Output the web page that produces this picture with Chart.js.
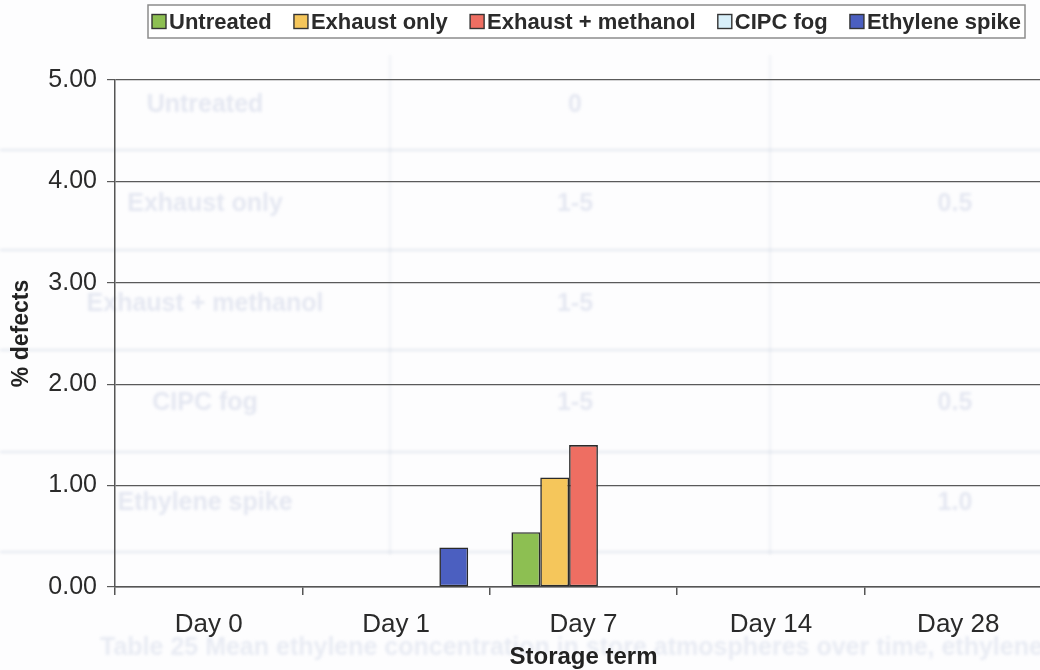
<!DOCTYPE html>
<html>
<head>
<meta charset="utf-8">
<title>% defects by storage term</title>
<script src="https://cdn.jsdelivr.net/npm/chart.js@4.4.0/dist/chart.umd.min.js"></script>
<style>
    html, body { margin: 0; padding: 0; background: #fdfdfe; overflow: hidden; }
    #wrap { width: 1060px; height: 670px; }
</style>
</head>
<body>
<div id="wrap"><canvas id="defectsChart" width="1060" height="670"></canvas></div>
<script>
// categories and series
const storageTerms = ['Day 0', 'Day 1', 'Day 7', 'Day 14', 'Day 28'];
const treatments = ['Untreated', 'Exhaust only', 'Exhaust + methanol', 'CIPC fog', 'Ethylene spike'];
const untreated = [0, 0, 0.54, 0, 0];
const exhaustOnly = [0, 0, 1.08, 0, 0];
const exhaustMethanol = [0, 0, 1.40, 0, 0];
const cipcFog = [0, 0, 0, 0, 0];
const ethyleneSpike = [0, 0.39, 0, 0, 0];
const yTicks = [0, 1, 2, 3, 4, 5];

// faint table text showing through the paper
const tableRows = [
    ['Untreated', '0', ''],
    ['Exhaust only', '1-5', '0.5'],
    ['Exhaust + methanol', '1-5', ''],
    ['CIPC fog', '1-5', '0.5'],
    ['Ethylene spike', '', '1.0']
];
const tableCaption = 'Table 25 Mean ethylene concentration in store atmospheres over time, ethylene (ppm)';

const seriesColours = ['#8dbf52', '#f5c65b', '#ee6e62', '#d8eff9', '#4b5fc0'];
const FONT = 'Arial, "Liberation Sans", sans-serif';

const showThrough = {
    id: 'showThrough',
    beforeDraw(chart) {
        const ctx = chart.ctx;
        ctx.save();
        ctx.fillStyle = '#fdfdfe';
        ctx.fillRect(0, 0, chart.width, chart.height);
        ctx.filter = 'blur(1.4px)';
        ctx.strokeStyle = 'rgba(165,178,205,0.28)';
        ctx.lineWidth = 2;
        [150, 250, 350, 452, 552].forEach(y => {
            ctx.beginPath(); ctx.moveTo(0, y); ctx.lineTo(1060, y); ctx.stroke();
        });
        ctx.strokeStyle = 'rgba(165,178,205,0.16)';
        [390, 770].forEach(x => {
            ctx.beginPath(); ctx.moveTo(x, 55); ctx.lineTo(x, 555); ctx.stroke();
        });
        ctx.fillStyle = 'rgba(150,165,200,0.24)';
        ctx.font = 'bold 25px ' + FONT;
        ctx.textBaseline = 'middle';
        tableRows.forEach((row, i) => {
            const y = 105 + i * 99.5;
            ctx.textAlign = 'center';
            ctx.fillText(row[0], 205, y);
            ctx.fillText(row[1], 575, y);
            ctx.fillText(row[2], 955, y);
        });
        ctx.textAlign = 'left';
        ctx.fillStyle = 'rgba(150,165,200,0.2)';
        ctx.fillText(tableCaption, 100, 648);
        ctx.restore();
    }
};

// legend drawn as a framed row, like a spreadsheet chart key
const boxedLegend = {
    id: 'boxedLegend',
    afterDraw(chart) {
        const ctx = chart.ctx;
        const left = 148, right = 1025, top = 5, bottom = 38;
        const cy = (top + bottom) / 2;
        ctx.save();
        ctx.fillStyle = '#ffffff';
        ctx.fillRect(left, top, right - left, bottom - top);
        ctx.strokeStyle = '#8c8c8c';
        ctx.lineWidth = 1.5;
        ctx.strokeRect(left, top, right - left, bottom - top);

        ctx.font = 'bold 22px ' + FONT;
        ctx.textBaseline = 'middle';
        const sw = 14, textGap = 3;
        const sets = chart.data.datasets;
        const widths = sets.map(ds => ctx.measureText(ds.label).width);
        const used = widths.reduce((a, b) => a + b, 0) + sets.length * (sw + textGap);
        const gap = (right - left - 8 - used) / (sets.length - 1);
        let x = left + 4;
        sets.forEach((ds, i) => {
            ctx.fillStyle = ds.backgroundColor;
            ctx.fillRect(x, cy - sw / 2, sw, sw);
            ctx.strokeStyle = '#333';
            ctx.lineWidth = 1.4;
            ctx.strokeRect(x, cy - sw / 2, sw, sw);
            ctx.fillStyle = '#2b2b2b';
            ctx.fillText(ds.label, x + sw + textGap, cy + 1);
            x += sw + textGap + widths[i] + gap;
        });
        ctx.restore();
    }
};

const seriesValues = [untreated, exhaustOnly, exhaustMethanol, cipcFog, ethyleneSpike];

new Chart(document.getElementById('defectsChart').getContext('2d'), {
    type: 'bar',
    data: {
        labels: storageTerms,
        datasets: treatments.map((name, i) => ({
            label: name,
            data: seriesValues[i],
            backgroundColor: seriesColours[i],
            borderColor: '#2a2a2a',
            borderWidth: c => (c.raw > 0 ? 1.6 : 0),
            borderSkipped: false,
            barPercentage: 1,
            categoryPercentage: 5 / 6.5
        }))
    },
    options: {
        responsive: false,
        animation: false,
        layout: { padding: { top: 80, right: 8, left: 0, bottom: 0 } },
        plugins: {
            legend: { display: false },
            tooltip: { enabled: false }
        },
        scales: {
            x: {
                grid: { display: true, drawOnChartArea: false, tickLength: 8, color: '#555', lineWidth: 1.5, offset: true },
                border: { color: '#555', width: 1.5 },
                ticks: { color: '#2a2a2a', font: { size: 26, family: FONT }, padding: 14 },
                title: {
                    display: true, text: 'Storage term', color: '#222',
                    font: { size: 24, weight: 'bold', family: FONT },
                    padding: { top: 0, bottom: -2 }
                },
                afterFit: s => { s.height = 83; }
            },
            y: {
                min: 0,
                max: 5,
                afterBuildTicks: s => { s.ticks = yTicks.map(v => ({ value: v })); },
                ticks: { color: '#2a2a2a', font: { size: 25, family: FONT }, padding: 10, callback: v => v.toFixed(2) },
                grid: { color: '#5a5a5a', lineWidth: 1.2, tickLength: 8 },
                border: { color: '#555', width: 1.5 },
                title: {
                    display: true, text: '% defects', color: '#222',
                    font: { size: 23, weight: 'bold', family: FONT },
                    padding: { top: 8, bottom: 0 }
                },
                afterFit: s => { s.width = 115; }
            }
        }
    },
    plugins: [showThrough, boxedLegend]
});
</script>
</body>
</html>
